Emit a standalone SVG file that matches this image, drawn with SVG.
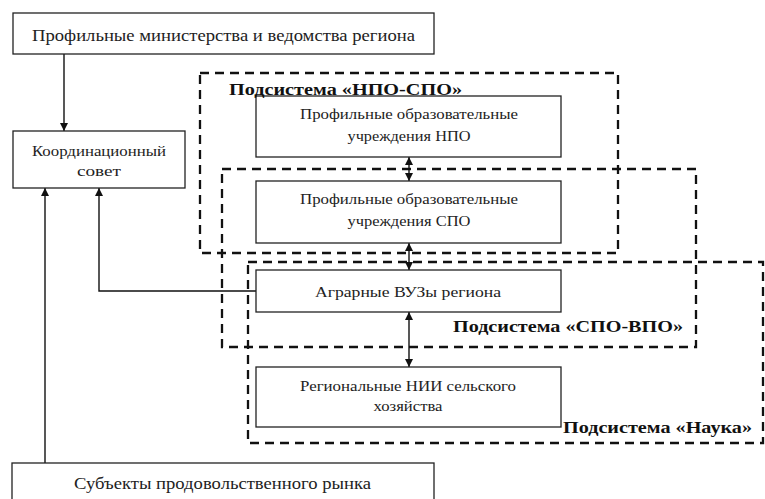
<svg xmlns="http://www.w3.org/2000/svg" width="765" height="499" viewBox="0 0 765 499">
<defs>
<style>
.box{fill:#fff;stroke:#222;stroke-width:1.3}
.dash{fill:none;stroke:#111;stroke-width:2.3;stroke-dasharray:9 6}
.t{font-family:"Liberation Serif","DejaVu Serif","Times New Roman",serif;font-size:15.5px;fill:#222;text-anchor:middle;dominant-baseline:central}
.tl{font-size:16.5px}
.h{font-family:"Liberation Serif","DejaVu Serif","Times New Roman",serif;font-size:17px;font-weight:bold;fill:#111}
.c{fill:none;stroke:#111;stroke-width:1.4}
</style>
<marker id="ah" viewBox="0 0 10 10" refX="10" refY="5" markerWidth="8" markerHeight="10" markerUnits="userSpaceOnUse" orient="auto-start-reverse">
<path d="M0,0 L10,5 L0,10 z" fill="#111"/>
</marker>
</defs>
<rect width="765" height="499" fill="#fff"/>
<g id="subsystems">
<rect class="dash" x="200" y="73" width="418" height="180"/>
<rect class="dash" x="222" y="169" width="474" height="178"/>
<rect class="dash" x="248" y="262" width="515" height="181"/>
</g>
<g id="connectors">
<line class="c" x1="64" y1="54" x2="64" y2="131" marker-end="url(#ah)"/>
<line class="c" x1="45" y1="463" x2="45" y2="188" marker-end="url(#ah)"/>
<polyline class="c" points="256,291 99,291 99,188" marker-end="url(#ah)"/>
<line class="c" x1="409" y1="157" x2="409" y2="181" marker-start="url(#ah)" marker-end="url(#ah)"/>
<line class="c" x1="409" y1="243" x2="409" y2="270" marker-start="url(#ah)" marker-end="url(#ah)"/>
<line class="c" x1="409" y1="312" x2="409" y2="367" marker-start="url(#ah)" marker-end="url(#ah)"/>
</g>
<g id="ministries">
<rect class="box" x="13" y="13" width="421" height="41"/>
<text class="t tl" x="223.5" y="35" textLength="383" lengthAdjust="spacingAndGlyphs">Профильные министерства и ведомства региона</text>
</g>
<g id="council">
<rect class="box" x="13" y="131" width="172" height="57"/>
<text class="t" x="99" y="150" textLength="134" lengthAdjust="spacingAndGlyphs">Координационный</text>
<text class="t" x="99" y="170" textLength="44" lengthAdjust="spacingAndGlyphs">совет</text>
</g>
<g id="npo">
<rect class="box" x="256" y="96" width="305" height="61"/>
<text class="t" x="409" y="113" textLength="218" lengthAdjust="spacingAndGlyphs">Профильные образовательные</text>
<text class="t" x="409" y="135" textLength="123" lengthAdjust="spacingAndGlyphs">учреждения НПО</text>
</g>
<g id="spo">
<rect class="box" x="256" y="181" width="305" height="62"/>
<text class="t" x="409" y="198" textLength="218" lengthAdjust="spacingAndGlyphs">Профильные образовательные</text>
<text class="t" x="409" y="220" textLength="123" lengthAdjust="spacingAndGlyphs">учреждения СПО</text>
</g>
<g id="vuz">
<rect class="box" x="256" y="270" width="305" height="42"/>
<text class="t" x="408" y="291" textLength="186" lengthAdjust="spacingAndGlyphs">Аграрные ВУЗы региона</text>
</g>
<g id="nii">
<rect class="box" x="256" y="367" width="305" height="60"/>
<text class="t" x="408" y="385" textLength="216" lengthAdjust="spacingAndGlyphs">Региональные НИИ сельского</text>
<text class="t" x="408" y="405" textLength="69" lengthAdjust="spacingAndGlyphs">хозяйства</text>
</g>
<g id="market">
<rect class="box" x="12" y="463" width="422" height="45"/>
<text class="t tl" x="222.5" y="483" textLength="297" lengthAdjust="spacingAndGlyphs">Субъекты продовольственного рынка</text>
</g>
<g id="titles">
<text class="h" x="229" y="95" textLength="233" lengthAdjust="spacingAndGlyphs">Подсистема «НПО-СПО»</text>
<text class="h" x="453" y="332" textLength="230" lengthAdjust="spacingAndGlyphs">Подсистема «СПО-ВПО»</text>
<text class="h" x="563" y="433" textLength="189" lengthAdjust="spacingAndGlyphs">Подсистема «Наука»</text>
</g>
</svg>
